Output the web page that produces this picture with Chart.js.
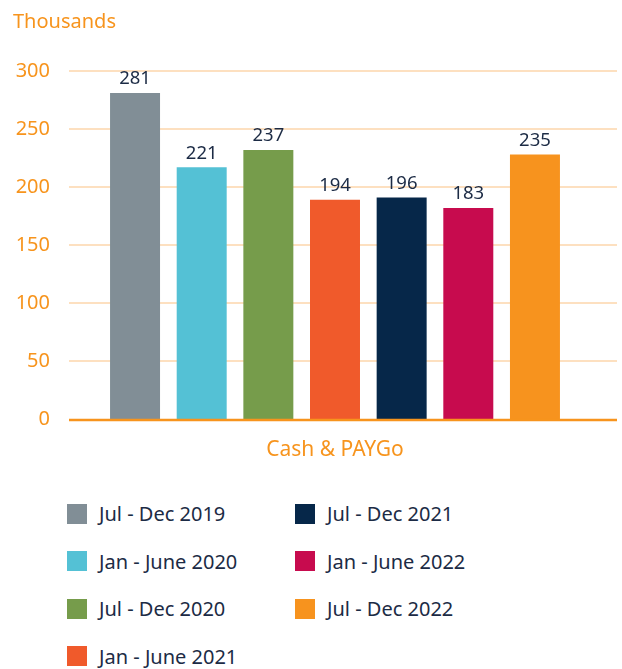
<!DOCTYPE html>
<html lang="en">
<head>
  <meta charset="UTF-8">
  <title>Cash & PAYGo</title>
  <script src="https://cdn.jsdelivr.net/npm/chart.js"></script>
  <style>
    body {
      margin: 0;
      background: #ffffff;
      font-family: 'Noto Sans', sans-serif;
    }

    .wrap {
      position: relative;
      width: 622px;
      height: 669px;
    }

    .chart-box {
      position: absolute;
      left: 0;
      top: 0;
      width: 622px;
      height: 475px;
    }

    .legend {
      position: absolute;
      left: 67px;
      top: 490px;
      display: grid;
      grid-template-columns: 228px 228px;
      grid-template-rows: repeat(4, 47.5px);
      grid-auto-flow: column;
    }

    .legend-item {
      display: flex;
      align-items: center;
      height: 47.5px;
      font-size: 20px;
      color: #1c2b45;
    }

    .legend-item span.box {
      width: 20px;
      height: 20px;
      margin-right: 12px;
      flex: none;
    }
  </style>
</head>
<body>

<div class="wrap">
  <div class="chart-box">
    <canvas id="grafico"></canvas>
  </div>
  <div class="legend" id="legenda"></div>
</div>

<script>
  const categorias = ['Cash & PAYGo'];
  const periodos = ['Jul - Dec 2019', 'Jan - June 2020', 'Jul - Dec 2020', 'Jan - June 2021',
                    'Jul - Dec 2021', 'Jan - June 2022', 'Jul - Dec 2022'];
  // bar heights as drawn in the picture
  const valores = [281, 217, 232, 189, 191, 182, 228];
  // numbers printed above the bars
  const rotulos = ['281', '221', '237', '194', '196', '183', '235'];
  const cores = ['#818e96', '#54c1d5', '#769c4b', '#f05a2b', '#062749', '#c70b4e', '#f7931e'];
  const yTicks = [0, 50, 100, 150, 200, 250, 300];

  const laranja = '#f7941d';
  const azulTexto = '#1c2b45';
  const fonte = "'Noto Sans', sans-serif";

  // legend, two columns
  const legenda = document.getElementById('legenda');
  periodos.forEach((p, i) => {
    const item = document.createElement('div');
    item.className = 'legend-item';
    item.innerHTML = '<span class="box" style="background:' + cores[i] + '"></span>' + p;
    legenda.appendChild(item);
  });

  // horizontal grid lines reach a bit past the plot on the right
  const linhasGrade = {
    id: 'linhasGrade',
    beforeDatasetsDraw(chart) {
      const { ctx, chartArea, scales } = chart;
      ctx.save();
      ctx.strokeStyle = '#fcd6ab';
      ctx.lineWidth = 1.5;
      yTicks.forEach(v => {
        if (v === 0) return;
        const y = scales.y.getPixelForValue(v);
        ctx.beginPath();
        ctx.moveTo(chartArea.left, y);
        ctx.lineTo(chartArea.right + 16, y);
        ctx.stroke();
      });
      ctx.restore();
    },
    afterDatasetsDraw(chart) {
      const { ctx, chartArea, scales } = chart;
      ctx.save();
      const y0 = scales.y.getPixelForValue(0);
      ctx.strokeStyle = laranja;
      ctx.lineWidth = 2.5;
      ctx.beginPath();
      ctx.moveTo(chartArea.left, y0 + 1);
      ctx.lineTo(chartArea.right + 16, y0 + 1);
      ctx.stroke();

      // value labels above the bars
      ctx.fillStyle = azulTexto;
      ctx.font = '18.5px ' + fonte;
      ctx.textAlign = 'center';
      ctx.textBaseline = 'middle';
      chart.data.datasets.forEach((ds, i) => {
        const bar = chart.getDatasetMeta(i).data[0];
        ctx.fillText(rotulos[i], bar.x, bar.y - 14);
      });
      ctx.restore();
    }
  };

  new Chart(document.getElementById('grafico').getContext('2d'), {
    type: 'bar',
    data: {
      labels: categorias,
      datasets: periodos.map((p, i) => ({
        label: p,
        data: [valores[i]],
        backgroundColor: cores[i],
        barPercentage: 0.75,
        categoryPercentage: 0.877
      }))
    },
    options: {
      responsive: true,
      maintainAspectRatio: false,
      animation: false,
      layout: {
        padding: { left: 13, right: 21, top: 0, bottom: 0 }
      },
      plugins: {
        legend: { display: false },
        tooltip: { enabled: false },
        title: {
          display: true,
          text: 'Thousands',
          align: 'start',
          color: laranja,
          font: { family: fonte, size: 20, weight: 'normal' },
          padding: { top: 10, bottom: 37 }
        }
      },
      scales: {
        x: {
          grid: { display: false, drawTicks: false },
          border: { display: false },
          ticks: {
            color: laranja,
            font: { family: fonte, size: 21 },
            padding: 18
          },
          afterFit(scale) { scale.height = 56; }
        },
        y: {
          min: 0,
          max: 300,
          afterBuildTicks(scale) { scale.ticks = yTicks.map(v => ({ value: v })); },
          grid: { display: false, drawTicks: false },
          border: { display: false },
          ticks: {
            color: laranja,
            font: { family: fonte, size: 20 },
            padding: 19
          },
          afterFit(scale) { scale.width = 56; }
        }
      }
    },
    plugins: [linhasGrade]
  });
</script>

</body>
</html>
